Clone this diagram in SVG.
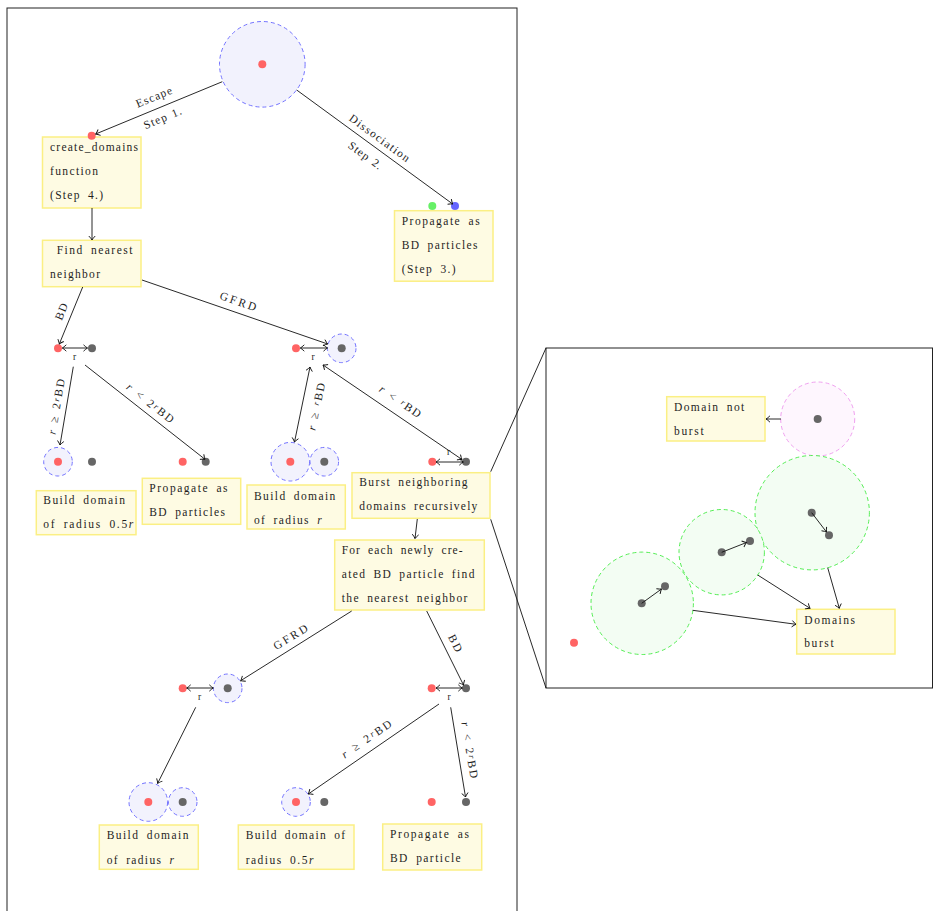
<svg xmlns="http://www.w3.org/2000/svg" width="933" height="911" viewBox="0 0 933 911">
<style>
text{font-family:"Liberation Serif","DejaVu Serif",serif;font-size:11.5px;fill:#1e1e1e;word-spacing:3px}
.lbl{text-anchor:middle;word-spacing:1px}
.sm{font-size:9.5px;text-anchor:middle}
.box{fill:#fefbe3;stroke:#fbef84;stroke-width:1.5}
.frame{fill:none;stroke:#222;stroke-width:1}
.red{fill:#ff6464}
.gray{fill:#666}
.grn{fill:#66f066}
.blu{fill:#6666ff}
.bc{fill:#f2f2fd;stroke:#7373ff;stroke-width:1;stroke-dasharray:4 3}
.gc{fill:#f3fdf3;stroke:#55ee55;stroke-width:1;stroke-dasharray:4 3}
.pc{fill:#fef6fe;stroke:#f0a0f0;stroke-width:1;stroke-dasharray:4 3}
.ln{stroke:#111;stroke-width:0.9;fill:none}
.a{marker-end:url(#ah)}
.d{marker-start:url(#ah);marker-end:url(#ah)}
.it{font-style:italic}
</style>
<defs>
<marker id="ah" viewBox="-5 -4 6 8" refX="0" refY="0" markerWidth="6" markerHeight="8" orient="auto-start-reverse" markerUnits="userSpaceOnUse">
<path d="M-4,-3.2 Q-1.5,-0.8 0,0 Q-1.5,0.8 -4,3.2" fill="none" stroke="#111" stroke-width="0.9"/>
</marker>
</defs>
<rect width="933" height="911" fill="#fff"/>
<g id="frames">
<rect class="frame" x="7" y="8" width="510" height="920"/>
<rect class="frame" x="546" y="348" width="386.5" height="340"/>
<line class="ln" x1="490.7" y1="471.7" x2="546" y2="348"/>
<line class="ln" x1="490.7" y1="519.3" x2="546" y2="688"/>
</g>
<g id="top-domain">
<circle class="bc" cx="262.3" cy="64.3" r="42.8"/>
<circle class="red" cx="262.3" cy="64.3" r="4"/>
</g>
<g id="create-domains">
<rect class="box" x="42.5" y="137" width="98.5" height="71"/>
<circle class="red" cx="91.7" cy="135.7" r="4"/>
<text x="50" y="151.2" textLength="88">create_domains</text>
<text x="50" y="175.2" textLength="48">function</text>
<text x="50" y="199.2" textLength="53">(Step 4.)</text>
</g>
<g id="propagate-step3">
<circle class="grn" cx="432.3" cy="206" r="4"/>
<circle class="blu" cx="455" cy="206" r="4"/>
<rect class="box" x="394.5" y="210.7" width="98.5" height="70.5"/>
<text x="401.7" y="225" textLength="78">Propagate as</text>
<text x="401.7" y="248.5" textLength="75.7">BD particles</text>
<text x="401.7" y="272.5" textLength="54">(Step 3.)</text>
</g>
<g id="find-nearest">
<rect class="box" x="42.5" y="240.3" width="98.5" height="46.4"/>
<text x="56.7" y="254.2" textLength="75.7">Find nearest</text>
<text x="50" y="278.2" textLength="50">neighbor</text>
</g>
<g id="bd-pair-1">
<circle class="red" cx="58" cy="348.3" r="4"/>
<circle class="gray" cx="92" cy="348.3" r="4"/>
</g>
<g id="gfrd-pair-1">
<circle class="red" cx="296" cy="348.3" r="4"/>
<circle class="bc" cx="341.7" cy="348.3" r="14.3"/>
<circle class="gray" cx="341.7" cy="348.3" r="4"/>
</g>
<g id="build-half-1">
<circle class="bc" cx="58" cy="461.7" r="14.3"/>
<circle class="red" cx="58" cy="461.7" r="4"/>
<circle class="gray" cx="92" cy="461.7" r="4"/>
<rect class="box" x="36.3" y="490.7" width="99.7" height="44"/>
<text x="43.3" y="504.2" textLength="81.7">Build domain</text>
<text x="43.3" y="527.8" textLength="90">of radius 0.5<tspan class="it">r</tspan></text>
</g>
<g id="propagate-1">
<circle class="red" cx="182.7" cy="461.7" r="4"/>
<circle class="gray" cx="205.7" cy="461.7" r="4"/>
<rect class="box" x="142.3" y="478.3" width="98.4" height="46"/>
<text x="149.3" y="492.2" textLength="78.3">Propagate as</text>
<text x="149.3" y="516.2" textLength="75.7">BD particles</text>
</g>
<g id="build-r-1">
<circle class="bc" cx="290.3" cy="461.7" r="19.3"/>
<circle class="red" cx="290.3" cy="461.7" r="4"/>
<circle class="bc" cx="324.3" cy="461.7" r="14.3"/>
<circle class="gray" cx="324.3" cy="461.7" r="4"/>
<rect class="box" x="247" y="485" width="98.3" height="44"/>
<text x="254" y="499.5" textLength="81.3">Build domain</text>
<text x="254" y="523.5" textLength="67.7">of radius <tspan class="it">r</tspan></text>
</g>
<g id="burst">
<circle class="red" cx="432.3" cy="461.7" r="4"/>
<circle class="gray" cx="466" cy="461.7" r="4"/>
<rect class="box" x="352" y="472.7" width="138" height="45.6"/>
<text x="359.3" y="486.2" textLength="108.3">Burst neighboring</text>
<text x="359.3" y="510.2" textLength="118">domains recursively</text>
</g>
<g id="for-each">
<rect class="box" x="334.7" y="540" width="149.6" height="70"/>
<text x="341.7" y="554.2" textLength="121">For each newly cre-</text>
<text x="341.7" y="577.8" textLength="132.7">ated BD particle find</text>
<text x="341.7" y="602.2" textLength="125.7">the nearest neighbor</text>
</g>
<g id="gfrd-pair-2">
<circle class="red" cx="182.7" cy="688.3" r="4"/>
<circle class="bc" cx="227.7" cy="688.3" r="14.3"/>
<circle class="gray" cx="227.7" cy="688.3" r="4"/>
</g>
<g id="bd-pair-2">
<circle class="red" cx="431.7" cy="688.3" r="4"/>
<circle class="gray" cx="466" cy="688.3" r="4"/>
</g>
<g id="build-r-2">
<circle class="bc" cx="148.3" cy="802" r="19.3"/>
<circle class="red" cx="148.3" cy="802" r="4"/>
<circle class="bc" cx="182.7" cy="802" r="14.3"/>
<circle class="gray" cx="182.7" cy="802" r="4"/>
<rect class="box" x="99.3" y="825" width="99" height="44.3"/>
<text x="106.7" y="839.2" textLength="81.7">Build domain</text>
<text x="106.7" y="863.5" textLength="67.3">of radius <tspan class="it">r</tspan></text>
</g>
<g id="build-half-2">
<circle class="bc" cx="296" cy="802" r="14.3"/>
<circle class="red" cx="296" cy="802" r="4"/>
<circle class="gray" cx="324.3" cy="802" r="4"/>
<rect class="box" x="238.3" y="825" width="115.7" height="44.3"/>
<text x="245.7" y="839.2" textLength="99.3">Build domain of</text>
<text x="245.7" y="863.5" textLength="67.7">radius 0.5<tspan class="it">r</tspan></text>
</g>
<g id="propagate-2">
<circle class="red" cx="431.7" cy="802" r="4"/>
<circle class="gray" cx="466" cy="802" r="4"/>
<rect class="box" x="382.7" y="824" width="99" height="46"/>
<text x="390" y="838.2" textLength="79">Propagate as</text>
<text x="390" y="862.2" textLength="70.7">BD particle</text>
</g>
<g id="not-burst-domain">
<circle class="pc" cx="817.7" cy="419" r="37"/>
<circle class="gray" cx="817.7" cy="419" r="4"/>
</g>
<g id="domain-not-burst">
<rect class="box" x="666.7" y="396.7" width="98.3" height="44.3"/>
<text x="674" y="411.2" textLength="70.3">Domain not</text>
<text x="674" y="435.2" textLength="29.7">burst</text>
</g>
<g id="green-domain-large">
<circle class="gc" cx="812.2" cy="512.7" r="57.2"/>
<circle class="gray" cx="811.7" cy="512.7" r="4"/>
<circle class="gray" cx="829" cy="535.3" r="4"/>
</g>
<g id="green-domain-middle">
<circle class="gc" cx="721.7" cy="552.2" r="42.7"/>
<circle class="gray" cx="721.7" cy="552.3" r="4"/>
<circle class="gray" cx="750" cy="541" r="4"/>
</g>
<g id="green-domain-left">
<circle class="gc" cx="642.2" cy="603.3" r="51.2"/>
<circle class="gray" cx="641.7" cy="603.3" r="4"/>
<circle class="gray" cx="665" cy="586.3" r="4"/>
</g>
<g id="lone-particle">
<circle class="red" cx="574" cy="642.7" r="4"/>
</g>
<g id="domains-burst">
<rect class="box" x="796.7" y="609.3" width="98.3" height="44.7"/>
<text x="804.3" y="623.5" textLength="50.7">Domains</text>
<text x="804.3" y="646.8" textLength="29.3">burst</text>
</g>
<g id="connectors">
<line class="ln a" x1="222.3" y1="81.7" x2="95.7" y2="134"/>
<line class="ln a" x1="296.7" y1="90" x2="452.7" y2="204"/>
<line class="ln a" x1="92" y1="208" x2="92" y2="240"/>
<line class="ln a" x1="82.7" y1="287" x2="59.3" y2="344"/>
<line class="ln a" x1="142" y1="280" x2="327.7" y2="344"/>
<line class="ln d" x1="62.3" y1="348" x2="87.5" y2="348"/>
<line class="ln d" x1="300.3" y1="348" x2="327.5" y2="348"/>
<line class="ln a" x1="73.3" y1="366.7" x2="60" y2="445"/>
<line class="ln a" x1="85" y1="365" x2="205" y2="459.3"/>
<line class="ln d" x1="310" y1="367" x2="294.5" y2="442"/>
<line class="ln d" x1="323" y1="365" x2="462" y2="459.5"/>
<line class="ln d" x1="436" y1="462" x2="463.3" y2="462"/>
<line class="ln a" x1="417.3" y1="519" x2="415" y2="538.5"/>
<line class="ln a" x1="351.7" y1="611" x2="240.7" y2="680.7"/>
<line class="ln a" x1="426.7" y1="611" x2="463.5" y2="685"/>
<line class="ln d" x1="186.7" y1="688" x2="213.3" y2="688"/>
<line class="ln d" x1="436" y1="688" x2="462.3" y2="688"/>
<line class="ln a" x1="195.7" y1="707.3" x2="157.7" y2="783.3"/>
<line class="ln a" x1="439" y1="704" x2="308.3" y2="794"/>
<line class="ln a" x1="450.7" y1="707.3" x2="465.5" y2="797"/>
<line class="ln a" x1="781" y1="419" x2="766" y2="419"/>
<line class="ln a" x1="811.7" y1="512.7" x2="826.5" y2="532"/>
<line class="ln a" x1="721.7" y1="552.3" x2="746.5" y2="542.5"/>
<line class="ln a" x1="641.7" y1="603.3" x2="661.5" y2="589"/>
<line class="ln a" x1="692.7" y1="610.3" x2="796" y2="624.3"/>
<line class="ln a" x1="757.7" y1="575" x2="810" y2="608.3"/>
<line class="ln a" x1="827.7" y1="567.7" x2="839.3" y2="608.3"/>
</g>
<g id="edge-labels">
<text class="lbl" transform="translate(154,97.3) rotate(-22.4)" y="3.5" textLength="38">Escape</text>
<text class="lbl" transform="translate(162.7,118.3) rotate(-22.4)" y="3.5" textLength="40">Step 1.</text>
<text class="lbl" transform="translate(379.3,138.3) rotate(36.2)" y="3.5" textLength="72">Dissociation</text>
<text class="lbl" transform="translate(365,155.7) rotate(36.2)" y="3.5" textLength="39">Step 2.</text>
<text class="lbl" transform="translate(61.7,311.7) rotate(-67.7)" y="3.5" textLength="17">BD</text>
<text class="lbl" transform="translate(238,301.7) rotate(19)" y="3.5" textLength="38">GFRD</text>
<text class="sm" x="74.5" y="360">r</text>
<text class="sm" x="313" y="360">r</text>
<text class="sm" x="448.5" y="455">r</text>
<text class="sm" x="199.5" y="700">r</text>
<text class="sm" x="449" y="700">r</text>
<text class="lbl" transform="translate(56.7,406.7) rotate(-80.4)" y="3.5" textLength="56"><tspan class="it">r</tspan> ≥ 2<tspan class="it" font-size="8.5" dy="-2">r</tspan><tspan dy="2">BD</tspan></text>
<text class="lbl" transform="translate(150,403.3) rotate(38.2)" y="3.5" textLength="57"><tspan class="it">r</tspan> &lt; 2<tspan class="it" font-size="8.5" dy="-2">r</tspan><tspan dy="2">BD</tspan></text>
<text class="lbl" transform="translate(316.7,406.7) rotate(-78)" y="3.5" textLength="48"><tspan class="it">r</tspan> ≥ <tspan class="it" font-size="8.5" dy="-2">r</tspan><tspan dy="2">BD</tspan></text>
<text class="lbl" transform="translate(400,401.7) rotate(34.2)" y="3.5" textLength="48"><tspan class="it">r</tspan> &lt; <tspan class="it" font-size="8.5" dy="-2">r</tspan><tspan dy="2">BD</tspan></text>
<text class="lbl" transform="translate(290.7,637.3) rotate(-31.5)" y="3.5" textLength="38">GFRD</text>
<text class="lbl" transform="translate(455,643.3) rotate(63.7)" y="3.5" textLength="18">BD</text>
<text class="lbl" transform="translate(366.7,739.3) rotate(-34.6)" y="3.5" textLength="58"><tspan class="it">r</tspan> ≥ 2<tspan class="it" font-size="8.5" dy="-2">r</tspan><tspan dy="2">BD</tspan></text>
<text class="lbl" transform="translate(469.3,750) rotate(80.5)" y="3.5" textLength="57"><tspan class="it">r</tspan> &lt; 2<tspan class="it" font-size="8.5" dy="-2">r</tspan><tspan dy="2">BD</tspan></text>
</g>
</svg>
